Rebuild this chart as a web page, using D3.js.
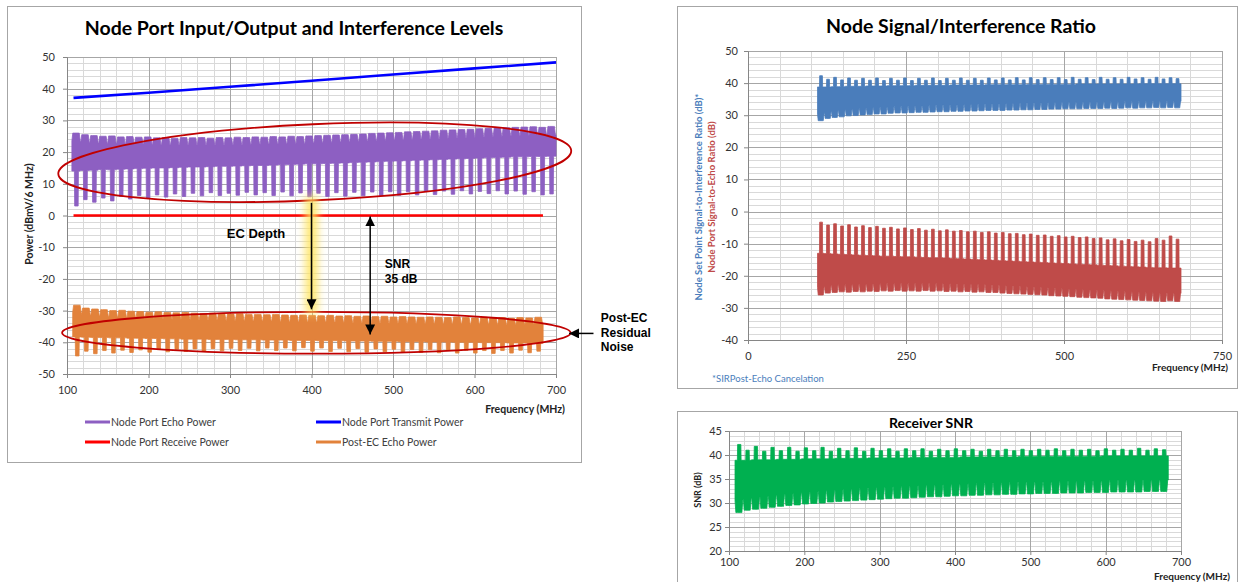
<!DOCTYPE html>
<html>
<head>
<meta charset="utf-8">
<script src="https://cdn.jsdelivr.net/npm/d3@7"></script>
<style>
  body { margin: 0; background: #fff; }
  svg text { font-family: Lato, "Open Sans", sans-serif; }
  .note { font-family: "Liberation Sans", Arial, sans-serif; font-weight: bold; }
</style>
</head>
<body>
<svg id="chart" width="1239" height="582"></svg>
<script>
// ---- data ----
// ripple bands: one row per echo ripple cycle
// hump-on-top rows: [hump top, notch, body bottom, finger bottom]
const echoStart = 106, echoPeriod = 11.0;
const echoPower = [
  [26.0,23.5,14.0,3.0],[25.5,23.2,14.2,5.0],[25.2,23.0,14.3,4.2],[25.0,22.8,14.5,5.5],[25.1,22.9,14.4,4.6],
  [24.8,22.6,14.6,6.0],[24.9,22.7,14.7,5.2],[24.7,22.5,14.8,6.3],[24.8,22.6,14.9,5.5],[24.5,22.4,15.0,6.5],
  [24.6,22.4,15.0,5.8],[24.4,22.3,15.1,6.8],[24.6,22.4,15.2,6.0],[24.5,22.3,15.3,7.0],[24.6,22.4,15.3,6.2],
  [24.4,22.3,15.4,7.2],[24.6,22.4,15.5,6.3],[24.5,22.3,15.5,7.0],[24.7,22.5,15.6,6.4],[24.6,22.4,15.7,7.3],
  [24.8,22.6,15.8,6.5],[24.7,22.5,15.8,7.2],[24.9,22.7,15.9,6.3],[24.8,22.6,16.0,7.4],[25.0,22.8,16.1,6.2],
  [24.9,22.7,16.2,7.1],[25.1,22.9,16.3,5.9],[25.2,23.0,16.3,7.0],[25.3,23.1,16.4,6.0],[25.4,23.2,16.5,7.2],
  [25.5,23.3,16.6,6.1],[25.6,23.4,16.7,7.3],[25.7,23.5,16.8,6.2],[25.9,23.6,16.9,7.4],[26.0,23.7,17.0,6.3],
  [26.1,23.8,17.1,7.5],[26.2,23.9,17.2,6.4],[26.4,24.0,17.3,7.5],[26.5,24.1,17.4,6.5],[26.6,24.2,17.5,7.6],
  [26.7,24.3,17.6,6.6],[26.9,24.4,17.7,7.7],[27.0,24.5,17.8,6.7],[27.1,24.6,17.9,7.8],[27.2,24.7,18.0,6.8],
  [27.4,24.8,18.1,7.6],[27.5,24.9,18.2,6.9],[27.6,25.0,18.3,7.8],[27.7,25.1,18.4,6.8],[27.8,25.2,18.5,7.7],
  [27.9,25.3,18.5,6.7],[28.0,25.4,18.6,7.5],[27.8,25.3,18.6,6.5],[28.1,25.5,18.7,6.8]
];
const postEcStart = 107, postEcPeriod = 11.1;
const postEcEcho = [
  [-28.3,-30.5,-38.3,-44.3],[-29.2,-31.2,-38.4,-42.8],[-29.5,-31.5,-38.5,-43.6],[-29.7,-31.7,-38.5,-42.6],
  [-30.0,-32.0,-38.6,-43.4],[-29.9,-31.9,-38.6,-42.5],[-30.2,-32.2,-38.7,-43.2],[-30.3,-32.3,-38.7,-42.4],
  [-30.5,-32.5,-38.8,-43.1],[-30.4,-32.4,-38.8,-42.3],[-30.6,-32.6,-38.9,-43.0],[-30.7,-32.7,-38.9,-42.2],
  [-30.6,-32.6,-39.0,-42.9],[-30.8,-32.8,-39.0,-42.1],[-30.9,-32.9,-39.0,-42.8],[-30.8,-32.8,-39.1,-42.0],
  [-31.0,-33.0,-39.1,-42.7],[-31.1,-33.1,-39.1,-41.9],[-31.0,-33.0,-39.2,-42.6],[-31.2,-33.2,-39.2,-41.9],
  [-31.2,-33.2,-39.2,-42.7],[-31.3,-33.3,-39.3,-41.8],[-31.2,-33.2,-39.3,-42.6],[-31.4,-33.4,-39.3,-41.8],
  [-31.5,-33.5,-39.4,-42.7],[-31.4,-33.4,-39.4,-41.7],[-31.5,-33.5,-39.4,-42.8],[-31.6,-33.6,-39.5,-41.8],
  [-31.5,-33.5,-39.5,-42.9],[-31.7,-33.7,-39.5,-41.9],[-31.6,-33.6,-39.6,-43.0],[-31.8,-33.8,-39.6,-42.0],
  [-31.7,-33.7,-39.6,-43.1],[-31.9,-33.9,-39.7,-42.1],[-31.8,-33.8,-39.7,-43.0],[-32.0,-34.0,-39.7,-42.2],
  [-31.9,-33.9,-39.8,-43.1],[-32.0,-34.0,-39.8,-42.3],[-32.1,-34.1,-39.8,-43.2],[-32.0,-34.0,-39.9,-42.3],
  [-32.1,-34.1,-39.9,-43.3],[-32.2,-34.2,-39.9,-42.4],[-32.0,-34.0,-40.0,-43.4],[-32.2,-34.2,-40.0,-42.5],
  [-32.3,-34.3,-40.0,-43.4],[-32.1,-34.1,-40.1,-42.6],[-32.3,-34.3,-40.1,-43.5],[-32.2,-34.2,-40.1,-42.6],
  [-32.4,-34.4,-40.2,-43.4],[-32.2,-34.2,-40.2,-42.5],[-32.3,-34.3,-40.2,-43.3],[-32.1,-34.1,-40.3,-42.8]
];
// spike-on-top rows: [spike top, body top, notch, hump bottom]
const ratioStart = 110, ratioPeriod = 11.06;
const sirPostEc = [
  [42.3,38.8,30.3,28.3],[41.2,38.8,31.0,29.0],[41.8,38.9,31.3,29.3],[41.0,38.9,31.5,29.5],[41.6,39.0,31.8,29.8],
  [40.9,39.0,31.9,29.9],[41.5,39.0,32.1,30.1],[40.9,39.1,32.2,30.2],[41.6,39.1,32.4,30.4],[40.8,39.1,32.4,30.4],
  [41.5,39.2,32.6,30.6],[40.9,39.2,32.7,30.7],[41.6,39.2,32.7,30.7],[40.8,39.2,32.8,30.8],[41.5,39.3,32.9,30.9],
  [40.9,39.3,32.9,30.9],[41.6,39.3,33.0,31.0],[40.8,39.3,33.1,31.1],[41.5,39.3,33.1,31.1],[40.9,39.4,33.2,31.2],
  [41.6,39.4,33.2,31.2],[40.9,39.4,33.3,31.3],[41.5,39.4,33.3,31.3],[40.9,39.4,33.4,31.4],[41.6,39.5,33.5,31.5],
  [41.0,39.5,33.5,31.5],[41.6,39.5,33.5,31.5],[41.0,39.5,33.6,31.6],[41.7,39.5,33.6,31.6],[41.0,39.5,33.7,31.7],
  [41.7,39.6,33.7,31.7],[41.1,39.6,33.8,31.8],[41.7,39.6,33.8,31.8],[41.1,39.6,33.9,31.9],[41.7,39.6,33.9,31.9],
  [41.1,39.6,34.0,32.0],[41.8,39.6,34.0,32.0],[41.2,39.7,34.0,32.0],[41.7,39.7,34.1,32.1],[41.1,39.7,34.1,32.1],
  [41.8,39.7,34.1,32.1],[41.2,39.7,34.2,32.2],[41.7,39.7,34.1,32.1],[41.2,39.7,34.2,32.2],[41.8,39.7,34.3,32.3],
  [41.3,39.7,34.2,32.2],[41.7,39.8,34.3,32.3],[41.2,39.8,34.3,32.3],[41.8,39.8,34.4,32.4],[41.3,39.8,34.3,32.3],
  [41.7,39.8,34.4,32.4],[41.4,39.8,34.3,32.3]
];
const serNodePort = [
  [-3.3,-13.0,-23.6,-26.0],[-4.2,-13.1,-23.1,-25.4],[-3.8,-13.2,-22.9,-25.2],[-4.5,-13.3,-22.8,-25.0],
  [-4.1,-13.4,-22.8,-25.1],[-4.8,-13.5,-22.6,-24.9],[-4.4,-13.6,-22.7,-25.0],[-5.0,-13.7,-22.5,-24.8],
  [-4.6,-13.8,-22.6,-24.9],[-5.2,-13.9,-22.4,-24.7],[-4.9,-13.9,-22.5,-24.8],[-5.4,-14.0,-22.3,-24.6],
  [-5.1,-14.1,-22.5,-24.8],[-5.6,-14.1,-22.4,-24.7],[-5.3,-14.2,-22.5,-24.8],[-5.8,-14.3,-22.3,-24.6],
  [-5.5,-14.4,-22.5,-24.8],[-6.0,-14.4,-22.4,-24.7],[-5.7,-14.5,-22.6,-24.9],[-6.1,-14.6,-22.5,-24.8],
  [-5.9,-14.7,-22.7,-25.0],[-6.3,-14.8,-22.6,-24.9],[-6.1,-14.9,-22.8,-25.1],[-6.5,-15.0,-22.7,-25.0],
  [-6.3,-15.1,-22.9,-25.2],[-6.7,-15.2,-22.9,-25.2],[-6.5,-15.3,-23.1,-25.4],[-6.9,-15.4,-23.2,-25.5],
  [-6.8,-15.5,-23.3,-25.6],[-7.2,-15.6,-23.4,-25.7],[-7.0,-15.7,-23.5,-25.8],[-7.4,-15.8,-23.6,-25.9],
  [-7.3,-15.9,-23.7,-26.0],[-7.7,-16.0,-23.9,-26.2],[-7.5,-16.1,-24.0,-26.3],[-7.9,-16.2,-24.1,-26.4],
  [-7.7,-16.3,-24.2,-26.5],[-8.1,-16.4,-24.3,-26.7],[-7.9,-16.5,-24.4,-26.8],[-8.4,-16.6,-24.5,-26.9],
  [-8.2,-16.7,-24.6,-27.0],[-8.8,-16.8,-24.7,-27.2],[-8.5,-16.9,-24.8,-27.3],[-9.1,-17.0,-24.9,-27.4],
  [-8.7,-17.1,-25.0,-27.5],[-9.3,-17.2,-25.1,-27.6],[-8.9,-17.3,-25.2,-27.7],[-9.4,-17.4,-25.3,-27.8],
  [-8.4,-17.5,-25.4,-27.9],[-8.9,-17.5,-25.5,-28.0],[-7.6,-17.6,-25.3,-27.8],[-8.6,-17.6,-25.5,-28.0]
];
const snrStart = 108, snrPeriod = 11.06;
const receiverSnr = [
  [42.2,38.9,30.5,28.0],[41.0,38.9,30.9,28.5],[41.8,39.0,31.1,28.7],[40.8,39.0,31.3,28.9],[41.6,39.0,31.5,29.1],
  [40.9,39.1,31.7,29.3],[41.6,39.1,31.9,29.5],[40.8,39.1,32.0,29.6],[41.5,39.2,32.2,29.8],[40.9,39.2,32.3,29.9],
  [41.6,39.2,32.4,30.0],[40.8,39.2,32.6,30.2],[41.4,39.3,32.7,30.3],[40.9,39.3,32.8,30.4],[41.5,39.3,32.9,30.5],
  [40.8,39.3,33.0,30.6],[41.4,39.4,33.1,30.7],[40.9,39.4,33.2,30.8],[41.3,39.4,33.3,30.9],[40.8,39.4,33.4,31.0],
  [41.3,39.4,33.4,31.0],[40.9,39.5,33.5,31.1],[41.3,39.5,33.6,31.2],[40.8,39.5,33.7,31.3],[41.2,39.5,33.7,31.3],
  [40.9,39.5,33.8,31.4],[41.3,39.5,33.9,31.5],[40.9,39.6,33.9,31.5],[41.2,39.6,34.0,31.6],[40.8,39.6,34.0,31.6],
  [41.2,39.6,34.1,31.7],[40.9,39.6,34.1,31.7],[41.2,39.6,34.2,31.8],[40.9,39.6,34.2,31.8],[41.2,39.7,34.3,31.9],
  [40.9,39.7,34.3,31.9],[41.2,39.7,34.4,32.0],[41.0,39.7,34.4,32.0],[41.3,39.7,34.4,32.0],[40.9,39.7,34.5,32.1],
  [41.2,39.7,34.5,32.1],[41.0,39.7,34.5,32.1],[41.2,39.7,34.6,32.2],[40.9,39.7,34.6,32.2],[41.3,39.8,34.6,32.2],
  [41.0,39.8,34.7,32.3],[41.2,39.8,34.7,32.3],[41.0,39.8,34.7,32.3],[41.4,39.8,34.7,32.3],[41.0,39.8,34.8,32.4],
  [41.3,39.8,34.8,32.4],[41.1,39.8,34.8,32.4]
];
// smooth lines: [MHz, dBmV]
const transmitPower = [[108,37.1],[200,38.7],[300,40.6],[400,42.5],[500,44.5],[600,46.4],[700,48.3]];
const receivePower = [[108,0],[684,0]];

const powerTicksY = d3.range(-50, 51, 10);
const powerTicksX = [100, 200, 300, 400, 500, 600, 700];
const ratioTicksY = d3.range(-40, 51, 10);
const ratioTicksX = [0, 250, 500, 750];
const snrTicksY = [20, 25, 30, 35, 40, 45];
const snrTicksX = [100, 200, 300, 400, 500, 600, 700];

const C = {
  echo: '#8d5fc2', postEc: '#e2823b', tx: '#0000ff', rx: '#ff0000',
  sir: '#4a7dbb', ser: '#bf4b49', snr: '#00b050', ring: '#c00000'
};

const svg = d3.select('#chart');
const defs = svg.append('defs');
defs.append('filter').attr('id', 'glow')
  .attr('x', '-1.5').attr('y', '-0.3').attr('width', '4').attr('height', '1.6')
  .append('feGaussianBlur').attr('stdDeviation', 4);
defs.append('marker').attr('id', 'head').attr('viewBox', '0 0 10 10')
  .attr('refX', 10).attr('refY', 5).attr('markerWidth', 10).attr('markerHeight', 10)
  .attr('markerUnits', 'userSpaceOnUse').attr('orient', 'auto-start-reverse')
  .append('path').attr('d', 'M0,0L10,5L0,10z').attr('fill', '#000');

// chart frames
[[7.5, 6.5, 574, 456], [677.5, 6.5, 560, 382], [677.5, 411.5, 560, 180]].forEach(b => {
  svg.append('rect').attr('x', b[0]).attr('y', b[1]).attr('width', b[2]).attr('height', b[3])
    .attr('fill', '#fff').attr('stroke', '#a6a6a6');
});

function panel(o) {
  const g = svg.append('g').attr('transform', `translate(${o.left},${o.top})`);
  const x = d3.scaleLinear().domain(o.xDomain).range([0, o.width]);
  const y = d3.scaleLinear().domain(o.yDomain).range([o.height, 0]);
  const grid = (vals, color) => {
    g.append('g').selectAll('line').data(vals.x).join('line')
      .attr('x1', d => Math.round(x(d)) + 0.5).attr('x2', d => Math.round(x(d)) + 0.5)
      .attr('y1', 0).attr('y2', o.height).attr('stroke', color);
    g.append('g').selectAll('line').data(vals.y).join('line')
      .attr('y1', d => Math.round(y(d)) + 0.5).attr('y2', d => Math.round(y(d)) + 0.5)
      .attr('x1', 0).attr('x2', o.width).attr('stroke', color);
  };
  const rng = (d, s) => d3.range(d[0], d[1] + s / 2, s);
  grid({ x: rng(o.xDomain, o.xMinor), y: rng(o.yDomain, o.yMinor) }, '#d9d9d9');
  grid({ x: rng(o.xDomain, o.xMajor), y: rng(o.yDomain, o.yMajor) }, '#a6a6a6');

  const ax = g.append('g').attr('transform', `translate(0,${o.height})`)
    .call(d3.axisBottom(x).tickValues(o.xTicks).tickSize(4).tickPadding(o.xPad).tickFormat(d => String(d)));
  const ay = g.append('g')
    .call(d3.axisLeft(y).tickValues(o.yTicks).tickSize(4).tickPadding(o.yPad).tickFormat(d => String(d)));
  [ax, ay].forEach(a => {
    a.select('.domain').attr('stroke', '#868686');
    a.selectAll('.tick line').attr('stroke', '#868686');
    a.selectAll('.tick text').attr('fill', '#333').style('font-size', o.tickFont + 'px')
      .style('font-family', 'Lato, sans-serif');
  });
  return { g, x, y };
}

// ripple band builder: one set of envelope points per cycle
const FR = [0, 0.1, 0.24, 0.28, 0.31, 0.7, 0.73, 0.82, 0.93];
function ripple(start, period, rows, humpOnTop) {
  const pts = [];
  rows.forEach((r, i) => {
    const f0 = start + i * period;
    const humpE = humpOnTop ? r[0] : r[3], humpB = humpOnTop ? r[1] : r[2];
    const fingE = humpOnTop ? r[3] : r[0], fingB = humpOnTop ? r[2] : r[1];
    const hump = [humpB, humpE, humpE, humpE, humpE, humpE, humpE, humpE, humpB];
    const fing = [fingB, fingB, fingB, fingB, fingE, fingE, fingB, fingB, fingB];
    FR.forEach((t, k) => {
      pts.push(humpOnTop
        ? { f: f0 + t * period, hi: hump[k], lo: fing[k] }
        : { f: f0 + t * period, hi: fing[k], lo: hump[k] });
    });
  });
  const last = rows[rows.length - 1];
  pts.push({ f: start + rows.length * period, hi: last[1], lo: last[2] });
  return pts;
}
function drawBand(p, pts, color) {
  p.g.append('path').datum(pts)
    .attr('fill', color).attr('stroke', color).attr('stroke-width', 0.8)
    .attr('d', d3.area().x(d => p.x(d.f)).y0(d => p.y(d.lo)).y1(d => p.y(d.hi)));
}
function drawLine(p, pts, color, w) {
  p.g.append('path').datum(pts).attr('fill', 'none').attr('stroke', color).attr('stroke-width', w)
    .attr('d', d3.line().x(d => p.x(d[0])).y(d => p.y(d[1])));
}

// ---------- left: Node Port Input/Output ----------
const P1 = panel({ left: 67, top: 57, width: 489, height: 317, xDomain: [100, 700], yDomain: [-50, 50],
  xMinor: 20, xMajor: 100, yMinor: 2, yMajor: 10, xTicks: powerTicksX, yTicks: powerTicksY,
  xPad: 8, yPad: 8, tickFont: 11 });
drawBand(P1, ripple(echoStart, echoPeriod, echoPower, true), C.echo);
drawBand(P1, ripple(postEcStart, postEcPeriod, postEcEcho, true), C.postEc);
drawLine(P1, transmitPower, C.tx, 2.6);
drawLine(P1, receivePower, C.rx, 2.6);

svg.append('text').attr('x', 294).attr('y', 35).attr('text-anchor', 'middle')
  .style('font-size', '19.5px').style('font-weight', 'bold').text('Node Port Input/Output and Interference Levels');
svg.append('text').attr('transform', 'translate(33,214) rotate(-90)').attr('text-anchor', 'middle')
  .style('font-size', '10.5px').style('font-weight', 'bold').attr('fill', '#222').text('Power (dBmV/6 MHz)');
svg.append('text').attr('x', 565).attr('y', 413).attr('text-anchor', 'end')
  .style('font-size', '10.5px').style('font-weight', 'bold').attr('fill', '#222').text('Frequency (MHz)');

const legend = [
  { label: 'Node Port Echo Power', color: C.echo, x: 85, y: 422 },
  { label: 'Node Port Transmit Power', color: C.tx, x: 316, y: 422 },
  { label: 'Node Port Receive Power', color: C.rx, x: 85, y: 442 },
  { label: 'Post-EC Echo Power', color: C.postEc, x: 316, y: 442 }
];
const lg = svg.append('g').selectAll('g').data(legend).join('g')
  .attr('transform', d => `translate(${d.x},${d.y})`);
lg.append('line').attr('x1', 0).attr('x2', 25).attr('stroke', d => d.color).attr('stroke-width', 3);
lg.append('text').attr('x', 26).attr('dy', '0.35em').style('font-size', '10.5px').attr('fill', '#404040')
  .text(d => d.label);

// annotations (placed in chart units)
const ann = P1.g.append('g');
function ring(cx, cy, rxMHz, ryDb, angle) {
  ann.append('ellipse')
    .attr('cx', P1.x(cx)).attr('cy', P1.y(cy))
    .attr('rx', P1.x(cx + rxMHz) - P1.x(cx)).attr('ry', P1.y(cy - ryDb) - P1.y(cy))
    .attr('transform', `rotate(${angle},${P1.x(cx)},${P1.y(cy)})`)
    .attr('fill', 'none').attr('stroke', C.ring).attr('stroke-width', 1.8);
}
ring(404, 16.8, 315, 12.0, -2.6);
ring(406, -37.0, 312, 6.6, 0);

ann.append('rect').attr('x', P1.x(400) - 6).attr('width', 12).attr('y', P1.y(6)).attr('height', P1.y(-31) - P1.y(6))
  .attr('fill', '#ffe45c').attr('opacity', 0.9).attr('filter', 'url(#glow)');
ann.append('line').attr('x1', P1.x(400)).attr('x2', P1.x(400)).attr('y1', P1.y(4)).attr('y2', P1.y(-29.6))
  .attr('stroke', '#000').attr('stroke-width', 1.5).attr('marker-end', 'url(#head)');
ann.append('line').attr('x1', P1.x(472)).attr('x2', P1.x(472)).attr('y1', P1.y(-0.3)).attr('y2', P1.y(-37.5))
  .attr('stroke', '#000').attr('stroke-width', 1.5)
  .attr('marker-start', 'url(#head)').attr('marker-end', 'url(#head)');
ann.append('line').attr('x1', P1.x(746)).attr('x2', P1.x(716)).attr('y1', P1.y(-37.2)).attr('y2', P1.y(-37.2))
  .attr('stroke', '#000').attr('stroke-width', 1.5).attr('marker-end', 'url(#head)');
ann.append('text').attr('class', 'note').attr('x', P1.x(296)).attr('y', P1.y(-7.1))
  .style('font-size', '13px').text('EC Depth');
ann.append('text').attr('class', 'note').attr('x', P1.x(490)).attr('y', P1.y(-16.7))
  .style('font-size', '12px').text('SNR');
ann.append('text').attr('class', 'note').attr('x', P1.x(490)).attr('y', P1.y(-21.4))
  .style('font-size', '12px').text('35 dB');
['Post-EC', 'Residual', 'Noise'].forEach((t, i) => {
  ann.append('text').attr('class', 'note').attr('x', P1.x(755)).attr('y', P1.y(-33.7 - i * 4.5))
    .style('font-size', '12px').text(t);
});

// ---------- right top: Node Signal/Interference Ratio ----------
const P2 = panel({ left: 748, top: 51, width: 474, height: 289, xDomain: [0, 750], yDomain: [-40, 50],
  xMinor: 50, xMajor: 250, yMinor: 2, yMajor: 10, xTicks: ratioTicksX, yTicks: ratioTicksY,
  xPad: 8, yPad: 6, tickFont: 11 });
drawBand(P2, ripple(ratioStart, ratioPeriod, sirPostEc, false), C.sir);
drawBand(P2, ripple(ratioStart, ratioPeriod, serNodePort, false), C.ser);

svg.append('text').attr('x', 961).attr('y', 33).attr('text-anchor', 'middle')
  .style('font-size', '19.5px').style('font-weight', 'bold').text('Node Signal/Interference Ratio');
svg.append('text').attr('transform', 'translate(702,197) rotate(-90)').attr('text-anchor', 'middle')
  .style('font-size', '9.5px').style('font-weight', 'bold').attr('fill', C.sir)
  .text('Node Set Point Signal-to-Interference Ratio (dB)*');
svg.append('text').attr('transform', 'translate(715,197) rotate(-90)').attr('text-anchor', 'middle')
  .style('font-size', '9.5px').style('font-weight', 'bold').attr('fill', C.ser)
  .text('Node Port Signal-to-Echo Ratio (dB)');
svg.append('text').attr('x', 1228).attr('y', 371).attr('text-anchor', 'end')
  .style('font-size', '10px').style('font-weight', 'bold').attr('fill', '#222').text('Frequency (MHz)');
svg.append('text').attr('x', 712).attr('y', 382)
  .style('font-size', '9.5px').attr('fill', C.sir).text('*SIRPost-Echo Cancelation');

// ---------- right bottom: Receiver SNR ----------
const P3 = panel({ left: 729, top: 431, width: 452, height: 120, xDomain: [100, 700], yDomain: [20, 45],
  xMinor: 20, xMajor: 100, yMinor: 1, yMajor: 5, xTicks: snrTicksX, yTicks: snrTicksY,
  xPad: 3, yPad: 3, tickFont: 11 });
drawBand(P3, ripple(snrStart, snrPeriod, receiverSnr, false), C.snr);

svg.append('text').attr('x', 931).attr('y', 428).attr('text-anchor', 'middle')
  .style('font-size', '14px').style('font-weight', 'bold').text('Receiver SNR');
svg.append('text').attr('transform', 'translate(701,490) rotate(-90)').attr('text-anchor', 'middle')
  .style('font-size', '9px').style('font-weight', 'bold').attr('fill', '#222').text('SNR (dB)');
svg.append('text').attr('x', 1230).attr('y', 580).attr('text-anchor', 'end')
  .style('font-size', '10px').style('font-weight', 'bold').attr('fill', '#222').text('Frequency (MHz)');
</script>
</body>
</html>
